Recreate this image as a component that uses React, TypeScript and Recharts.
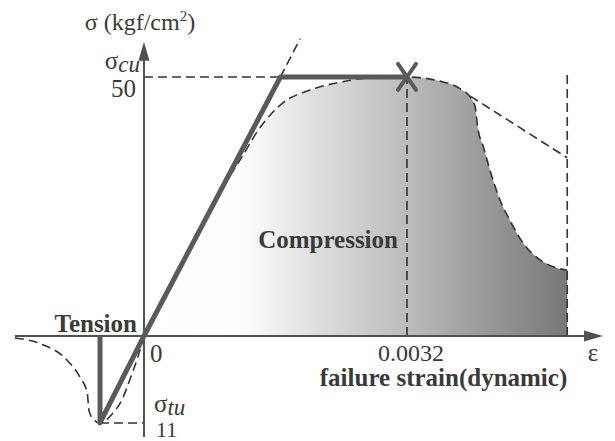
import { ComposedChart, Area, Line, XAxis, YAxis, ReferenceLine, ReferenceDot } from "recharts";

// Concrete stress–strain relation: strain ε (–) against stress σ (kgf/cm²)
const compressionStrain = [
  0, 0.00056, 0.00099, 0.00117, 0.00141, 0.00169, 0.00202, 0.00239, 0.00271, 0.0032,
  0.0036, 0.00385, 0.00397, 0.00403, 0.00406, 0.00413, 0.00421, 0.00433, 0.00445,
  0.00461, 0.00482, 0.00503, 0.00515,
];
const compressionStress = [
  0, 16.6, 29.5, 34.0, 40.2, 45.0, 47.5, 49.0, 49.8, 50,
  49.2, 47.7, 46.1, 44.2, 40.3, 36.5, 32.0, 26.3, 22.4,
  18.0, 14.7, 13.1, 12.7,
];

const tensionStrain = [
  -0.00157, -0.00123, -0.00094, -0.00078, -0.00069, -0.00067, -0.00062, -0.000535,
  -0.00039, -0.00027, -0.00015, -0.00007, 0,
];
const tensionStress = [
  -0.25, -1.1, -3.0, -5.2, -7.2, -9.4, -10.5, -11,
  -9.9, -8.1, -4.9, -2.5, 0,
];

// bilinear design model
const SIGMA_CU = 50;
const SIGMA_TU = -11;
const EPS_FAIL = 0.0032;
const EPS_YIELD = 0.00166;
const EPS_TU = -0.000535;
const EPS_END = 0.00515;

const modelStrain = [0, EPS_YIELD, EPS_FAIL];
const modelStress = [0, SIGMA_CU, SIGMA_CU];
const tensionModelStrain = [EPS_TU, EPS_TU, 0];
const tensionModelStress = [0, SIGMA_TU, 0];

const softeningStrain = [0.00397, EPS_END];
const softeningStress = [46.3, 34.4];

const elasticExtStrain = [EPS_YIELD, 0.0019];
const elasticExtStress = [SIGMA_CU, 57.4];

// axis extents (strain, stress)
const X_AXIS_RANGE = [-0.00157, 0.005585];
const Y_AXIS_RANGE = [-19.5, 56.8];

const X_DOMAIN = [-0.001752, 0.005731];
const C_DOMAIN = [-20.27, 64.86];
const T_DOMAIN = [-13.28, 42.48];

const zip = (xs: number[], ys: number[]) => xs.map((x, i) => ({ x, y: ys[i] }));

const compression = zip(compressionStrain, compressionStress);
const tension = zip(tensionStrain, tensionStress);
const model = zip(modelStrain, modelStress);
const tensionModel = zip(tensionModelStrain, tensionModelStress);
const softening = zip(softeningStrain, softeningStress);
const elasticExt = zip(elasticExtStrain, elasticExtStress);

const INK = "#3a3a3a";
const AXIS = "#505050";
const THICK = "#5a5a5a";
const DASH = "#333";
const FONT = "Liberation Serif";

const arrowShape = (p: any) => {
  const { x1, y1, x2, y2 } = p;
  const dx = x2 - x1;
  const dy = y2 - y1;
  const len = Math.hypot(dx, dy);
  const ux = dx / len;
  const uy = dy / len;
  const L = 19;
  const W = 5.5;
  const bx = x2 - ux * L;
  const by = y2 - uy * L;
  const pts = `${x2},${y2} ${bx - uy * W},${by + ux * W} ${bx + uy * W},${by - ux * W}`;
  return (
    <g>
      <line x1={x1} y1={y1} x2={bx + ux * 2} y2={by + uy * 2} stroke={AXIS} strokeWidth={2} />
      <polygon points={pts} fill={AXIS} />
    </g>
  );
};

const crossShape = (p: any) => {
  const { cx, cy } = p;
  return (
    <g stroke={THICK} strokeWidth={4} strokeLinecap="round">
      <line x1={cx - 9} y1={cy - 13} x2={cx + 9} y2={cy + 13} />
      <line x1={cx + 9} y1={cy - 13} x2={cx - 9} y2={cy + 13} />
    </g>
  );
};

const label =
  (content: any, dx: number, dy: number, anchor = "start", bold = false, size = 25) =>
  (p: any) => (
    <text
      x={p.cx + dx}
      y={p.cy + dy}
      textAnchor={anchor}
      fontFamily={FONT}
      fontSize={size}
      fontWeight={bold ? "bold" : "normal"}
      fill={INK}
    >
      {content}
    </text>
  );

const dashed = { stroke: DASH, strokeWidth: 1.6, strokeDasharray: "9 5" };

export default function App() {
  return (
    <div style={{ position: "absolute", left: 0, top: 0, width: 615, height: 441, background: "#fff" }}>
      <ComposedChart width={615} height={441} margin={{ top: 0, right: 0, bottom: 0, left: 0 }}>
        <defs>
          <linearGradient id="compressionFill" x1="0" y1="0" x2="1" y2="0">
            <stop offset="0%" stopColor="#ffffff" />
            <stop offset="24%" stopColor="#fcfcfc" />
            <stop offset="42%" stopColor="#dcdcdc" />
            <stop offset="62%" stopColor="#bcbcbc" />
            <stop offset="80%" stopColor="#9a9a9a" />
            <stop offset="100%" stopColor="#787878" />
          </linearGradient>
        </defs>
        <XAxis type="number" dataKey="x" domain={X_DOMAIN} allowDataOverflow hide />
        <YAxis yAxisId="c" type="number" dataKey="y" domain={C_DOMAIN} allowDataOverflow hide />
        <YAxis yAxisId="t" type="number" dataKey="y" domain={T_DOMAIN} allowDataOverflow hide />

        <Area
          yAxisId="c"
          data={compression}
          dataKey="y"
          type="monotone"
          baseValue={0}
          stroke="none"
          fill="url(#compressionFill)"
          fillOpacity={1}
          dot={false}
          activeDot={false}
          isAnimationActive={false}
        />

        {/* reference levels */}
        <ReferenceLine yAxisId="c" segment={[{ x: 0, y: SIGMA_CU }, { x: EPS_FAIL, y: SIGMA_CU }]} {...dashed} />
        <ReferenceLine yAxisId="c" segment={[{ x: EPS_FAIL, y: 0 }, { x: EPS_FAIL, y: SIGMA_CU }]} {...dashed} />
        <ReferenceLine yAxisId="c" segment={[{ x: EPS_END, y: 0 }, { x: EPS_END, y: 50.5 }]} {...dashed} />
        <ReferenceLine yAxisId="t" segment={[{ x: EPS_TU, y: SIGMA_TU }, { x: 0, y: SIGMA_TU }]} {...dashed} />

        {/* axes */}
        <ReferenceLine
          yAxisId="c"
          segment={[{ x: X_AXIS_RANGE[0], y: 0 }, { x: X_AXIS_RANGE[1], y: 0 }]}
          shape={arrowShape}
        />
        <ReferenceLine
          yAxisId="c"
          segment={[{ x: 0, y: Y_AXIS_RANGE[0] }, { x: 0, y: Y_AXIS_RANGE[1] }]}
          shape={arrowShape}
        />

        {/* measured-type curves */}
        <Line yAxisId="c" data={compression} dataKey="y" type="monotone" {...dashed} dot={false} activeDot={false} isAnimationActive={false} />
        <Line yAxisId="t" data={tension} dataKey="y" type="monotone" {...dashed} dot={false} activeDot={false} isAnimationActive={false} />
        <Line yAxisId="c" data={softening} dataKey="y" type="linear" {...dashed} dot={false} activeDot={false} isAnimationActive={false} />
        <Line yAxisId="c" data={elasticExt} dataKey="y" type="linear" {...dashed} dot={false} activeDot={false} isAnimationActive={false} />

        {/* bilinear model */}
        <Line yAxisId="c" data={model} dataKey="y" type="linear" stroke={THICK} strokeWidth={5} strokeLinejoin="round" dot={false} activeDot={false} isAnimationActive={false} />
        <Line yAxisId="t" data={tensionModel} dataKey="y" type="linear" stroke={THICK} strokeWidth={5} strokeLinejoin="round" dot={false} activeDot={false} isAnimationActive={false} />

        <ReferenceDot yAxisId="c" x={EPS_FAIL} y={SIGMA_CU} shape={crossShape} />

        {/* labels */}
        <ReferenceDot
          yAxisId="c"
          x={0}
          y={Y_AXIS_RANGE[1]}
          shape={label(
            <>
              σ (kgf/cm<tspan fontSize={15} dy={-9}>2</tspan>
              <tspan dy={9}>)</tspan>
            </>,
            -4,
            -12,
            "middle",
            false,
            24
          )}
        />
        <ReferenceDot
          yAxisId="c"
          x={0}
          y={SIGMA_CU}
          shape={label(
            <>
              σ<tspan fontStyle="italic" fontSize={23} dy={3}>cu</tspan>
            </>,
            -4,
            -8,
            "end"
          )}
        />
        <ReferenceDot yAxisId="c" x={0} y={SIGMA_CU} shape={label("50", -8, 20, "end")} />
        <ReferenceDot yAxisId="c" x={0} y={0} shape={label("0", 6, 26)} />
        <ReferenceDot yAxisId="c" x={0} y={0} shape={label("Tension", -7, -4, "end", true)} />
        <ReferenceDot
          yAxisId="t"
          x={0}
          y={SIGMA_TU}
          shape={label(
            <>
              σ<tspan fontStyle="italic" fontSize={23} dy={3}>tu</tspan>
            </>,
            10,
            -11,
            "start"
          )}
        />
        <ReferenceDot yAxisId="t" x={0} y={SIGMA_TU} shape={label("11", 12, 14, "start", false, 22)} />
        <ReferenceDot yAxisId="c" x={EPS_FAIL} y={0} shape={label("0.0032", 4, 25, "middle", false, 24)} />
        <ReferenceDot yAxisId="c" x={X_AXIS_RANGE[1]} y={0} shape={label("ε", -10, 25, "middle")} />
        <ReferenceDot yAxisId="c" x={EPS_FAIL} y={0} shape={label("Compression", -9, -88, "end", true)} />
        <ReferenceDot yAxisId="c" x={EPS_END} y={0} shape={label("failure strain(dynamic)", 0, 50, "end", true)} />
      </ComposedChart>
    </div>
  );
}
